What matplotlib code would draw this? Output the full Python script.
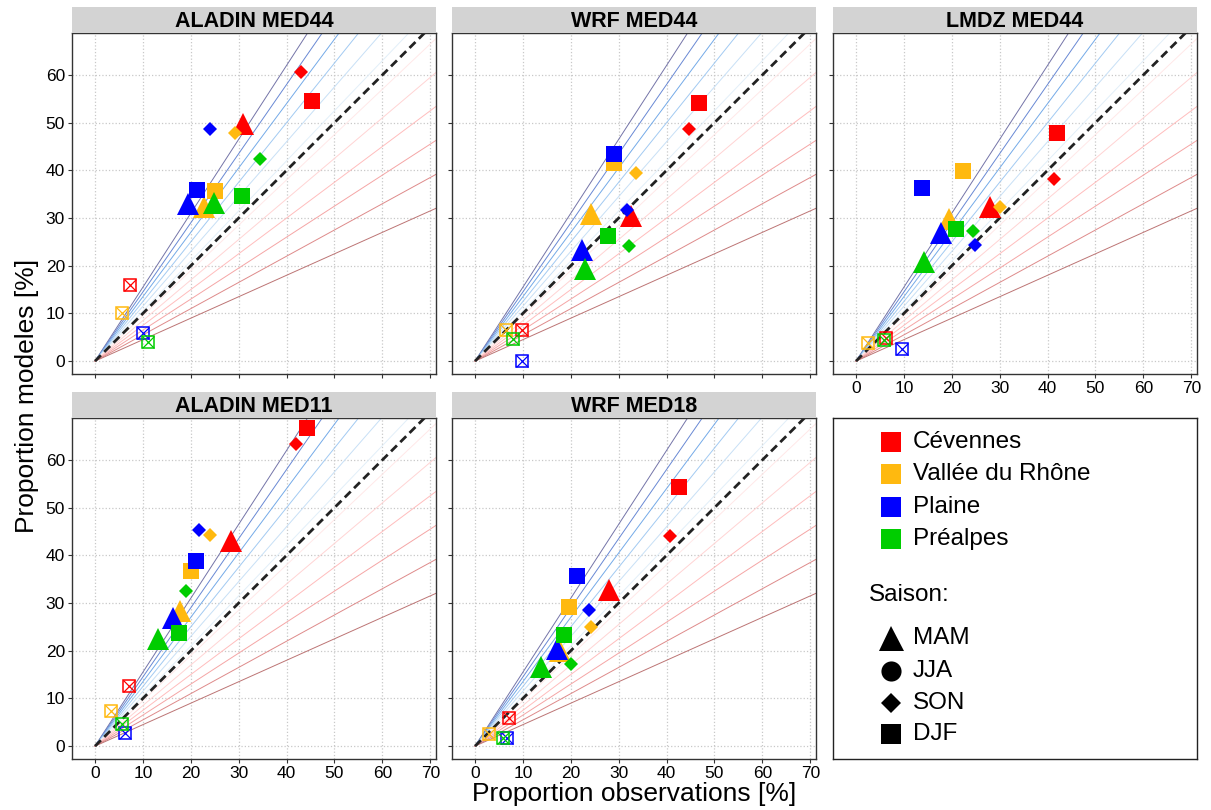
import numpy as np
import matplotlib
matplotlib.use("Agg")
import matplotlib.pyplot as plt

plt.rcParams['font.family'] = ['Liberation Sans', 'DejaVu Sans']

# categories
regions = ["Cévennes", "Vallée du Rhône", "Plaine", "Préalpes"]
region_colors = ["#FF0000", "#FFB90F", "#0000FF", "#00CD00"]
seasons = ["MAM", "JJA", "SON", "DJF"]
models = ["ALADIN MED44", "WRF MED44", "LMDZ MED44", "ALADIN MED11", "WRF MED18"]

# proportion observed / modelled [%], one row per region, columns MAM, JJA, SON, DJF
obs_aladin44 = [[30.8, 7.3, 43.1, 45.4], [22.7, 5.6, 29.3, 25.1],
                [19.5, 10.0, 24.1, 21.3], [24.8, 11.0, 34.5, 30.7]]
mod_aladin44 = [[49.8, 15.9, 60.7, 54.6], [32.3, 10.0, 47.8, 35.6],
                [33.0, 5.8, 48.6, 35.9], [33.1, 4.0, 42.4, 34.7]]

obs_wrf44 = [[32.5, 9.8, 44.6, 46.7], [24.2, 6.4, 33.7, 29.1],
             [22.3, 9.9, 31.7, 29.1], [22.9, 8.0, 32.1, 27.7]]
mod_wrf44 = [[30.4, 6.5, 48.6, 54.2], [30.9, 6.6, 39.4, 41.5],
             [23.2, 0.0, 31.6, 43.5], [19.3, 4.7, 24.1, 26.2]]

obs_lmdz44 = [[28.0, 6.3, 41.3, 42.0], [19.5, 2.6, 30.0, 22.4],
              [17.7, 9.7, 24.8, 13.7], [14.3, 5.9, 24.5, 20.8]]
mod_lmdz44 = [[32.4, 4.9, 38.2, 47.9], [29.7, 3.7, 32.3, 39.9],
              [26.9, 2.6, 24.4, 36.3], [20.7, 4.4, 27.2, 27.7]]

obs_aladin11 = [[28.3, 7.2, 41.9, 44.2], [17.8, 3.3, 24.1, 20.0],
                [16.3, 6.3, 21.8, 21.0], [13.1, 5.7, 19.1, 17.5]]
mod_aladin11 = [[43.1, 12.6, 63.4, 66.7], [28.3, 7.3, 44.2, 36.8],
                [26.9, 2.8, 45.4, 38.8], [22.5, 4.7, 32.5, 23.7]]

obs_wrf18 = [[27.9, 7.0, 40.8, 42.5], [17.8, 2.9, 24.2, 19.6],
             [17.2, 6.6, 23.9, 21.2], [13.8, 5.9, 20.0, 18.6]]
mod_wrf18 = [[32.8, 6.0, 44.0, 54.3], [20.0, 2.5, 25.0, 29.2],
             [20.4, 1.6, 28.6, 35.7], [16.6, 1.6, 17.3, 23.2]]

panel_obs = [obs_aladin44, obs_wrf44, obs_lmdz44, obs_aladin11, obs_wrf18]
panel_mod = [mod_aladin44, mod_wrf44, mod_lmdz44, mod_aladin11, mod_wrf18]

# reference ratio lines (model / obs)
slopes_over = [1.55, 1.45, 1.35, 1.25, 1.15, 1.05]
colors_over = ['#7474a8', '#6888d4', '#74aae8', '#a2caf2', '#c8e0f6', '#e2eff9']
slopes_under = [0.95, 0.85, 0.75, 0.65, 0.55, 0.45]
colors_under = ['#ffe8e8', '#ffd4d4', '#ffbdbd', '#f5a5a5', '#de8a8a', '#bc7474']

W, H = 1211, 810
fig = plt.figure(figsize=(W / 100, H / 100), dpi=100)


def frac(x0, y0, x1, y1):
    return [x0 / W, 1 - y1 / H, (x1 - x0) / W, (y1 - y0) / H]


cols = [(72, 436), (452, 816), (833, 1197)]
rows = [(33, 374), (418, 759)]
strip_h = 26

season_marker = {"MAM": ("^", 15.5), "SON": ("D", 7.6), "DJF": ("s", 11.5)}

for i, name in enumerate(models):
    r, c = divmod(i, 3)
    x0, x1 = cols[c]
    y0, y1 = rows[r]
    ax = fig.add_axes(frac(x0, y0, x1, y1))
    st = fig.add_axes(frac(x0, y0 - strip_h, x1, y0))
    st.set_facecolor('#d3d3d3')
    st.set_xticks([])
    st.set_yticks([])
    for sp in st.spines.values():
        sp.set_visible(False)
    st.text(0.5, 0.45, name, ha='center', va='center', fontsize=15.5,
            fontweight='bold', transform=st.transAxes)

    ax.set_xlim(-4.8, 71.2)
    ax.set_ylim(-2.7, 68.8)
    ax.set_xticks(np.arange(0, 80, 10))
    ax.set_yticks(np.arange(0, 70, 10))
    ax.grid(True, color='#c8c8c8', linestyle=':', linewidth=0.9)
    ax.set_axisbelow(True)

    xs = np.array([0, 100])
    for s, col in zip(slopes_over, colors_over):
        ax.plot(xs, xs * s, color=col, lw=0.7, zorder=1)
    for s, col in zip(slopes_under, colors_under):
        ax.plot(xs, xs * s, color=col, lw=0.7, zorder=1)
    ax.plot(xs, xs, color='#222222', lw=2.0, dashes=(3, 1.7), zorder=2)

    obs = panel_obs[i]
    mod = panel_mod[i]
    for k, col in enumerate(region_colors):
        for j, sea in enumerate(seasons):
            xo, ym = obs[k][j], mod[k][j]
            if sea == "JJA":
                ax.plot(xo, ym, marker='s', ms=8.5, mfc='none', mec=col,
                        mew=1.1, zorder=3)
                ax.plot(xo, ym, marker='x', ms=8.0, mec=col, mew=0.9,
                        zorder=3)
            else:
                m, ms = season_marker[sea]
                ax.plot(xo, ym, marker=m, ms=ms, color=col, mec=col,
                        mew=0, ls='none', zorder=3)

    for sp in ax.spines.values():
        sp.set_color('#333333')
        sp.set_linewidth(1.0)
    ax.tick_params(axis='both', which='both', labelsize=12.5, length=3,
                   width=0.8, color='#333333', pad=2, direction='out',
                   top=False, right=False)
    ax.tick_params(axis='x', labelbottom=(r == 1 or c == 2))
    ax.tick_params(axis='y', labelleft=(c == 0))

# legend panel
lg = fig.add_axes(frac(833, 418, 1197, 759))
lg.set_xlim(0, 364)
lg.set_ylim(341, 0)
lg.set_xticks([])
lg.set_yticks([])
for sp in lg.spines.values():
    sp.set_color('#222222')
    sp.set_linewidth(1.0)

reg_rows = [24, 56, 89, 121]
for name, col, yy in zip(regions, region_colors, reg_rows):
    lg.plot(58, yy, marker='s', ms=15, color=col, mew=0)
    lg.text(80, yy, name, fontsize=17.5, va='center', ha='left')

lg.text(36, 177, "Saison:", fontsize=17.5, va='center', ha='left')
legend_markers = [("^", 18), ("o", 14.5), ("D", 10), ("s", 15)]
sea_rows = [220, 253, 285, 316]
for sea, (m, ms), yy in zip(seasons, legend_markers, sea_rows):
    lg.plot(58, yy, marker=m, ms=ms, color='black', mew=0)
    lg.text(80, yy, sea, fontsize=17.5, va='center', ha='left')

fig.text(27 / W, 1 - 396 / H, "Proportion modeles [%]", rotation=90,
         fontsize=19, ha='center', va='center')
fig.text(634 / W, 1 - 794 / H, "Proportion observations [%]",
         fontsize=19, ha='center', va='center')

fig.savefig("out.png", dpi=100)
